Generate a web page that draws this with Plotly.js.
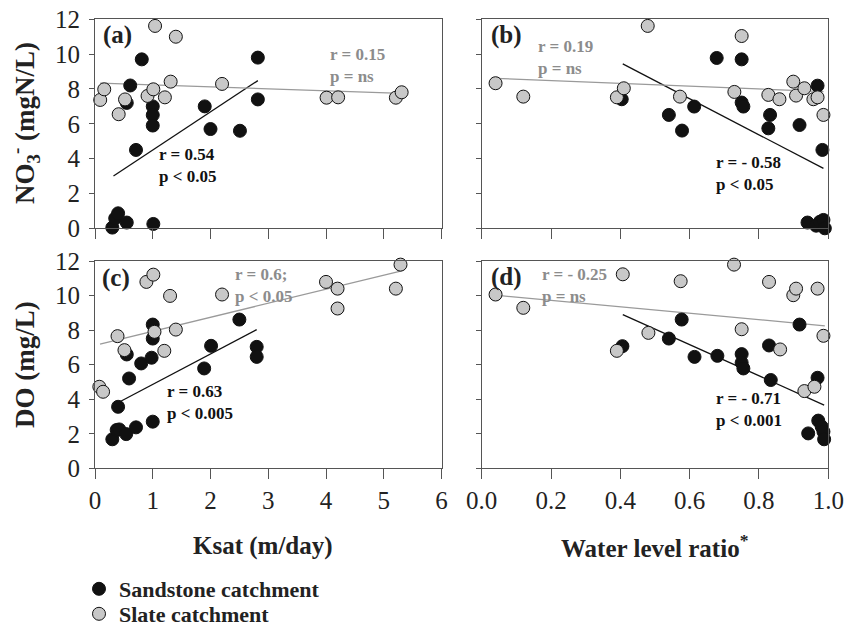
<!DOCTYPE html>
<html>
<head>
<meta charset="utf-8">
<script src="https://cdn.plot.ly/plotly-3.0.1.min.js"></script>
<style>html,body{margin:0;padding:0;background:#fff;}#chart{width:846px;height:628px;}</style>
</head>
<body>
<div id="chart"></div>
<script>
// ---------- data ----------
// Panel (a): NO3- vs Ksat
const a_sand_x = [0.81,0.61,0.55,0.71,1.0,1.0,1.0,1.9,2.0,2.51,2.82,2.82,0.30,0.35,0.40,0.55,1.01];
const a_sand_y = [9.7,8.2,7.2,4.5,7.0,6.5,5.9,7.0,5.7,5.6,9.8,7.4,0.04,0.57,0.86,0.33,0.25];
const a_slate_x = [0.09,0.16,0.41,0.52,0.91,1.01,1.04,1.21,1.31,1.40,2.20,4.01,4.21,5.21,5.31];
const a_slate_y = [7.37,7.98,6.55,7.4,7.6,7.98,11.62,7.52,8.42,11.0,8.29,7.5,7.52,7.5,7.81];
const a_sand_fit_x = [0.32,2.82], a_sand_fit_y = [3.0,8.48];
const a_slate_fit_x = [0.09,5.31], a_slate_fit_y = [8.33,7.75];

// Panel (b): NO3- vs water level ratio
const b_sand_x = [0.404,0.54,0.578,0.613,0.678,0.75,0.75,0.755,0.827,0.832,0.917,0.969,0.983,0.94,0.965,0.976,0.986,0.99];
const b_sand_y = [7.41,6.51,5.61,6.99,9.78,9.70,7.22,6.99,5.74,6.51,5.93,8.19,4.50,0.33,0.15,0.38,0.48,0.0];
const b_slate_x = [0.04,0.12,0.39,0.41,0.479,0.572,0.729,0.75,0.827,0.859,0.899,0.907,0.931,0.957,0.969,0.986];
const b_slate_y = [8.33,7.56,7.52,8.04,11.62,7.56,7.83,11.04,7.66,7.41,8.42,7.62,8.04,7.41,7.52,6.51];
const b_sand_fit_x = [0.407,0.986], b_sand_fit_y = [9.44,3.44];
const b_slate_fit_x = [0.04,0.986], b_slate_fit_y = [8.61,7.85];

// Panel (c): DO vs Ksat
const c_sand_x = [0.30,0.375,0.42,0.54,0.71,1.0,0.40,0.59,0.55,0.80,0.98,1.0,1.0,1.89,2.01,2.50,2.80,2.80];
const c_sand_y = [1.68,2.22,2.25,1.98,2.37,2.70,3.56,5.20,6.59,6.07,6.40,7.51,8.32,5.78,7.09,8.61,7.03,6.45];
const c_slate_x = [0.075,0.14,0.39,0.51,0.89,1.01,1.03,1.20,1.30,1.40,2.20,4.0,4.2,4.2,5.21,5.29];
const c_slate_y = [4.72,4.43,7.65,6.84,10.79,11.21,7.90,6.80,9.98,8.03,10.06,10.79,10.40,9.25,10.40,11.79];
const c_sand_fit_x = [0.43,2.80], c_sand_fit_y = [3.85,8.03];
const c_slate_fit_x = [0.087,5.31], c_slate_fit_y = [7.19,11.43];

// Panel (d): DO vs water level ratio
const d_sand_x = [0.406,0.54,0.577,0.614,0.68,0.75,0.75,0.755,0.829,0.834,0.917,0.969,0.942,0.971,0.981,0.986,0.988];
const d_sand_y = [7.07,7.51,8.61,6.45,6.51,6.61,6.11,5.78,7.11,5.11,8.32,5.24,2.02,2.76,2.41,2.12,1.68];
const d_slate_x = [0.04,0.12,0.39,0.407,0.481,0.574,0.728,0.75,0.829,0.861,0.899,0.907,0.931,0.960,0.969,0.986];
const d_slate_y = [10.06,9.29,6.80,11.23,7.84,10.83,11.79,8.05,10.79,6.88,10.02,10.40,4.47,4.72,10.40,7.67];
const d_sand_fit_x = [0.407,0.988], d_sand_fit_y = [8.90,3.66];
const d_slate_fit_x = [0.04,0.99], d_slate_fit_y = [10.02,8.25];

const ksatTicks = [0,1,2,3,4,5,6];
const ratioTicks = [0,0.2,0.4,0.6,0.8,1.0];
const ratioTickText = ['0.0','0.2','0.4','0.6','0.8','1.0'];
const yTicks = [0,2,4,6,8,10,12];
const seriesNames = ['Sandstone catchment','Slate catchment'];

// ---------- styling ----------
const FONT = 'Liberation Serif, Times New Roman, serif';
const SAND = '#111111', SLATE = '#c8c8c8', GRAYTXT = '#8c8c8c', GRAYLINE = '#9a9a9a';

function pts(x, y, ax, isSand, legendId) {
  const t = {
    x: x, y: y, xaxis: 'x' + ax, yaxis: 'y' + ax, type: 'scatter', mode: 'markers',
    name: '<b>' + (isSand ? seriesNames[0] : seriesNames[1]) + '</b>',
    showlegend: !!legendId, cliponaxis: false,
    marker: {size: 13, color: isSand ? SAND : SLATE, line: {color: '#111', width: 1}}
  };
  if (legendId) t.legend = legendId;
  return t;
}
function fit(x, y, ax, isSand) {
  return {
    x: x, y: y, xaxis: 'x' + ax, yaxis: 'y' + ax, type: 'scatter', mode: 'lines',
    showlegend: false, hoverinfo: 'skip',
    line: {color: isSand ? '#111' : GRAYLINE, width: 1.3}
  };
}

const traces = [
  fit(a_sand_fit_x, a_sand_fit_y, '', true), fit(a_slate_fit_x, a_slate_fit_y, '', false),
  fit(b_sand_fit_x, b_sand_fit_y, '2', true), fit(b_slate_fit_x, b_slate_fit_y, '2', false),
  fit(c_sand_fit_x, c_sand_fit_y, '3', true), fit(c_slate_fit_x, c_slate_fit_y, '3', false),
  fit(d_sand_fit_x, d_sand_fit_y, '4', true), fit(d_slate_fit_x, d_slate_fit_y, '4', false),
  pts(a_sand_x, a_sand_y, '', true, 'legend'), pts(a_slate_x, a_slate_y, '', false, 'legend2'),
  pts(b_sand_x, b_sand_y, '2', true), pts(b_slate_x, b_slate_y, '2', false),
  pts(c_sand_x, c_sand_y, '3', true), pts(c_slate_x, c_slate_y, '3', false),
  pts(d_sand_x, d_sand_y, '4', true), pts(d_slate_x, d_slate_y, '4', false)
];

const W = 846, H = 628;
const px = v => v / W, py = v => (H - v) / H;
const LX = [px(95), px(441.5)], RX = [px(481.7), px(828.3)];
const TY = [py(228.3), py(19.3)], BY = [py(468.3), py(261)];

function xax(dom, anchor, isKsat, labels) {
  return {
    domain: dom, anchor: anchor, range: isKsat ? [0, 6] : [0, 1],
    tickvals: isKsat ? ksatTicks : ratioTicks, ticktext: isKsat ? ksatTicks.map(String) : ratioTickText,
    showticklabels: labels, ticks: 'outside', ticklen: 10, tickwidth: 1, tickcolor: '#555',
    showline: true, mirror: true, linecolor: '#555', linewidth: 1,
    showgrid: false, zeroline: false, automargin: false,
    tickfont: {family: FONT, size: 25, color: '#222'}, ticklabelstandoff: 0
  };
}
function yax(dom, anchor, labels) {
  return {
    domain: dom, anchor: anchor, range: [0, 12], tickvals: yTicks,
    showticklabels: labels, ticks: 'outside', ticklen: 5, tickwidth: 1, tickcolor: '#555',
    showline: true, mirror: true, linecolor: '#555', linewidth: 1,
    showgrid: false, zeroline: false, automargin: false,
    tickfont: {family: FONT, size: 25, color: '#222'}, ticklabelstandoff: 4
  };
}

function note(text, x, y, color, size) {
  return {text: text, xref: 'paper', yref: 'paper', x: px(x), y: py(y), xanchor: 'left', yanchor: 'middle',
          showarrow: false, align: 'left', font: {family: FONT, size: size || 17, color: color}};
}
function center(text, x, y, size, angle) {
  return {text: text, xref: 'paper', yref: 'paper', x: px(x), y: py(y), xanchor: 'center', yanchor: 'middle',
          showarrow: false, textangle: angle || 0, font: {family: FONT, size: size, color: '#222'}};
}

const annotations = [
  center('<b>(a)</b>', 117, 35, 25), center('<b>(b)</b>', 506, 35, 25),
  center('<b>(c)</b>', 116, 278, 25), center('<b>(d)</b>', 506, 277, 25),
  note('<b>r = 0.54<br>p < 0.05</b>', 157, 165, '#111'),
  note('<b>r = 0.15<br>p = ns</b>', 328, 66, GRAYTXT),
  note('<b>r = 0.19<br>p = ns</b>', 536, 58, GRAYTXT),
  note('<b>r = - 0.58<br>p < 0.05</b>', 714, 173, '#111'),
  note('<b>r = 0.6;<br>p < 0.05</b>', 233, 285, GRAYTXT),
  note('<b>r = 0.63<br>p < 0.005</b>', 165, 402, '#111'),
  note('<b>r = - 0.25<br>p = ns</b>', 540, 285, GRAYTXT),
  note('<b>r = - 0.71<br>p < 0.001</b>', 714, 409, '#111'),
  center('<b>Ksat (m/day)</b>', 263, 546, 25),
  center('<b>Water level ratio<sup>*</sup></b>', 655, 546, 25),
  center('<b>NO<sub>3</sub><sup>-</sup> (mgN/L)</b>', 25, 123, 27, -90),
  center('<b>DO (mg/L)</b>', 25, 365, 27, -90)
];

const legendBase = {xanchor: 'left', yanchor: 'middle', bgcolor: 'rgba(0,0,0,0)',
  font: {family: FONT, size: 22, color: '#222'}, itemclick: false, itemdoubleclick: false};

const layout = {
  width: W, height: H, margin: {l: 0, r: 0, t: 0, b: 0, autoexpand: false},
  paper_bgcolor: '#fff', plot_bgcolor: '#fff',
  xaxis: xax(LX, 'y', true, false), yaxis: yax(TY, 'x', true),
  xaxis2: xax(RX, 'y2', false, false), yaxis2: yax(TY, 'x2', false),
  xaxis3: xax(LX, 'y3', true, true), yaxis3: yax(BY, 'x3', true),
  xaxis4: xax(RX, 'y4', false, true), yaxis4: yax(BY, 'x4', false),
  annotations: annotations,
  showlegend: true,
  legend: Object.assign({x: px(79), y: py(589)}, legendBase),
  legend2: Object.assign({x: px(79), y: py(614)}, legendBase),
  font: {family: FONT}
};

Plotly.newPlot('chart', traces, layout, {displayModeBar: false, staticPlot: true});
</script>
</body>
</html>
